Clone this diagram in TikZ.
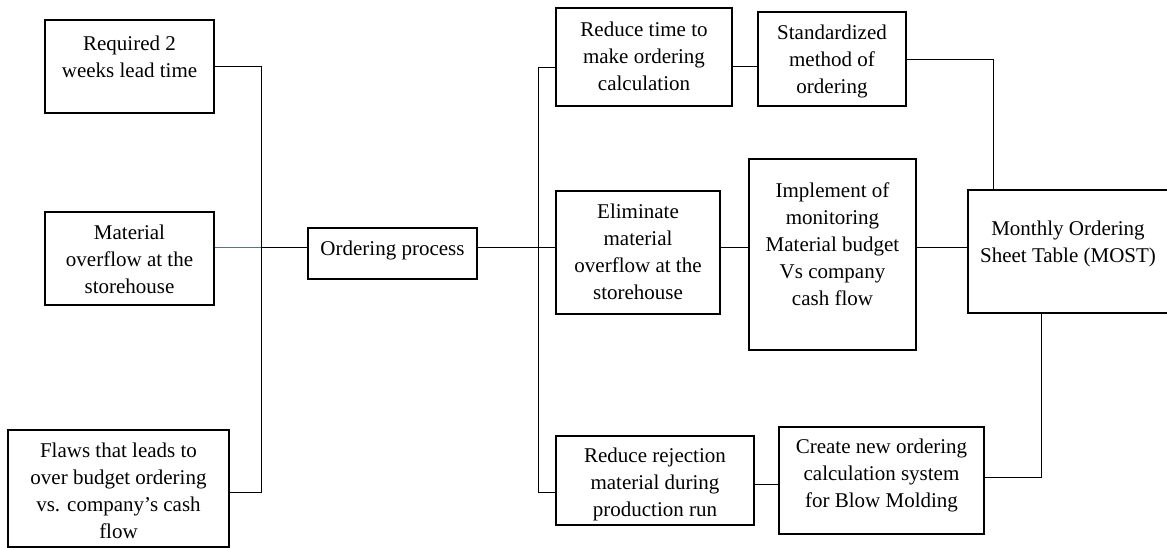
\documentclass[tikz,border=0pt]{standalone}
\usepackage{fontspec}
\setmainfont{Liberation Serif}
\definecolor{linkblue}{RGB}{68,114,196}
\begin{document}
\begin{tikzpicture}[x=1pt,y=-1pt,
  box/.style={draw, line width=1.3pt, inner sep=0pt},
  txt/.style={align=center, font=\fontsize{21}{27}\selectfont, inner sep=0pt, anchor=base},
  conn/.style={line width=0.9pt}]
\useasboundingbox (0,0) rectangle (1167,548);
% boxes
\node[box, minimum width=169, minimum height=93] (b1) at (129.5,66.5) {};
\node[box, minimum width=169, minimum height=93] (b2) at (129.5,258.5) {};
\node[box, minimum width=221, minimum height=117] (b3) at (118.5,488.5) {};
\node[box, minimum width=169, minimum height=51] (op) at (392.5,253.5) {};
\node[box, minimum width=176, minimum height=98] (rt) at (644,57) {};
\node[box, minimum width=148, minimum height=94] (std) at (832,59) {};
\node[box, minimum width=164, minimum height=123] (el) at (638,252.5) {};
\node[box, minimum width=167, minimum height=191] (imp) at (832.5,254.5) {};
\node[box, minimum width=207, minimum height=123] (most) at (1071.5,251.5) {};
\node[box, minimum width=198, minimum height=89] (rr) at (655,480.5) {};
\node[box, minimum width=205, minimum height=107] (cr) at (881.5,480.5) {};
% texts (anchored at the baseline of the last line)
\node[txt] (t1) at (129.5,78) {Required 2\\weeks lead time};
\node[txt] (t2) at (129.5,293) {Material\\overflow at the\\storehouse};
\node[txt] (t3) at (118.5,538) {Flaws that leads to\\over budget ordering\\vs. company’s cash\\flow};
\node[txt] (t4) at (392.5,255) {Ordering process};
\node[txt] (t5) at (644,91) {Reduce time to\\make ordering\\calculation};
\node[txt] (t6) at (832,94) {Standardized\\method of\\ordering};
\node[txt] (t7) at (638,299) {Eliminate\\material\\overflow at the\\storehouse};
\node[txt] (t8) at (832.5,305) {Implement of\\monitoring\\Material budget\\Vs company\\cash flow};
\node[txt] (t9) at (1068,262) {Monthly Ordering\\Sheet Table (MOST)};
\node[txt] (t10) at (655,516) {Reduce rejection\\material during\\production run};
\node[txt] (t11) at (881.5,507) {Create new ordering\\calculation system\\for Blow Molding};
% junction points
\coordinate (j1) at (261,66);
\coordinate (j2) at (261,247);
\coordinate (j3) at (261,492);
\coordinate (k1) at (538,67);
\coordinate (k3) at (538,492);
\coordinate (m1) at (745,66);
\coordinate (s1) at (993,59);
\coordinate (q1) at (1041,477);
\coordinate (u1) at (766,484);
% connectors
\draw[conn] (b1.east |- j1) -- (j1) -- (j3) -- (j3 -| b3.east);
\draw[conn, linkblue] (b2.east |- j2) -- (j2);
\draw[conn] (j2) -- (j2 -| op.west);
\draw[conn] (j2 -| op.east) -- (j2 -| el.west);
\draw[conn] (k1 -| rt.west) -- (k1) -- (k3) -- (k3 -| rr.west);
\draw[conn] (m1 -| rt.east) -- (m1 -| std.west);
\draw[conn] (j2 -| el.east) -- (j2 -| imp.west);
\draw[conn] (j2 -| imp.east) -- (j2 -| most.west);
\draw[conn] (s1 -| std.east) -- (s1) -- (s1 |- most.north);
\draw[conn] (q1 |- most.south) -- (q1) -- (q1 -| cr.east);
\draw[conn] (u1 -| rr.east) -- (u1 -| cr.west);
\end{tikzpicture}
\end{document}
